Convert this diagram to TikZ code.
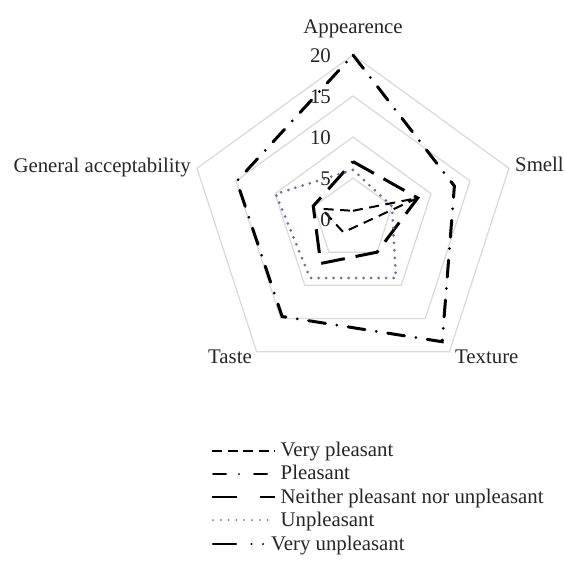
\documentclass[tikz,border=0pt]{standalone}
\usepackage{fontspec}
\setmainfont{Liberation Serif}
\definecolor{ringgray}{RGB}{217,217,217}
\definecolor{unpurple}{RGB}{128,100,162}
\newcommand\radarpoly[6]{\draw[#1] (-90:{#2*8.2}) -- (-18:{#3*8.2}) -- (54:{#4*8.2}) -- (126:{#5*8.2}) -- (198:{#6*8.2}) -- cycle;}
\begin{document}
\begin{tikzpicture}[x=1pt,y=-1pt,
  font=\fontsize{20.8}{24}\selectfont,
  every node/.style={inner sep=0pt, text=black!85},
  ring/.style={draw=ringgray, line width=1.2pt},
  vplline/.style={line width=2pt, dash pattern=on 10pt off 6.5pt},
  plline/.style={line width=3pt, line cap=round, dash pattern=on 17pt off 11.5pt on 0pt off 11.5pt},
  neiline/.style={line width=3pt, dash pattern=on 24pt off 11pt},
  unpline/.style={draw=unpurple, line width=3pt, line cap=round, dash pattern=on 0pt off 7.5pt},
  vunline/.style={line width=2.2pt, line cap=round, dash pattern=on 23pt off 15.5pt on 0pt off 11.6pt on 0pt off 30pt}]
\useasboundingbox (0,0) rectangle (564,561);
\fill[white] (0,0) rectangle (564,561);
\begin{scope}[shift={(353,219)}]
  \coordinate (c) at (0,0);
  \foreach \r in {41,82,123,164}
    \draw[ring] (-90:\r) -- (-18:\r) -- (54:\r) -- (126:\r) -- (198:\r) -- cycle;
  \radarpoly{vplline}{1}{8.3}{1}{2}{4}
  \radarpoly{plline}{20}{13}{18.5}{14.7}{14.9}
  \radarpoly{neiline}{7}{8.3}{5}{6.7}{5.1}
  \radarpoly{unpline}{6}{5}{8.9}{8.9}{9.9}
\end{scope}
% scale labels
\node[anchor=base east] (s20) at (331,62.6) {20};
\node[anchor=base east] (s15) at (331,103.6) {15};
\node[anchor=base east] (s10) at (331,144.6) {10};
\node[anchor=base east] (s5) at (331,185.6) {5};
\node[anchor=base east] (s0) at (331,226) {0};
% axis labels
\node[anchor=base] (lapp) at (353,34) {Appearence};
\node[anchor=base west] (lsm) at (515,172) {Smell};
\node[anchor=base west] (ltex) at (455,363) {Texture};
\node[anchor=base east] (ltas) at (252,363) {Taste};
\node[anchor=base east] (lgen) at (191,173) {General acceptability};
% legend
\coordinate (a1) at (212,450.5); \coordinate (b1) at (275,450.5);
\draw[line width=2pt, dash pattern=on 10pt off 5.5pt] (a1) -- (b1);
\node[anchor=base west] (t1) at (280.5,456) {Very pleasant};
\coordinate (a2) at (213,474); \coordinate (b2) at (270,474);
\draw[line width=2pt, line cap=round, dash pattern=on 13pt off 13pt on 0pt off 15pt] (a2) -- (b2);
\node[anchor=base west] (t2) at (280.5,479.5) {Pleasant};
\coordinate (a3) at (212,497); \coordinate (b3) at (275,497);
\draw[line width=2.2pt, dash pattern=on 25pt off 23pt] (a3) -- (b3);
\node[anchor=base west] (t3) at (280.5,503) {Neither pleasant nor unpleasant};
\coordinate (a4) at (213,520); \coordinate (b4) at (268,520);
\draw[draw=unpurple, line width=2pt, line cap=round, dash pattern=on 0pt off 7.8pt] (a4) -- (b4);
\node[anchor=base west] (t4) at (280.5,526.5) {Unpleasant};
\coordinate (a5) at (213,544); \coordinate (b5) at (264,544);
\draw[vunline] (a5) -- (b5);
\node[anchor=base west] (t5) at (271,550) {Very unpleasant};
\end{tikzpicture}
\end{document}
